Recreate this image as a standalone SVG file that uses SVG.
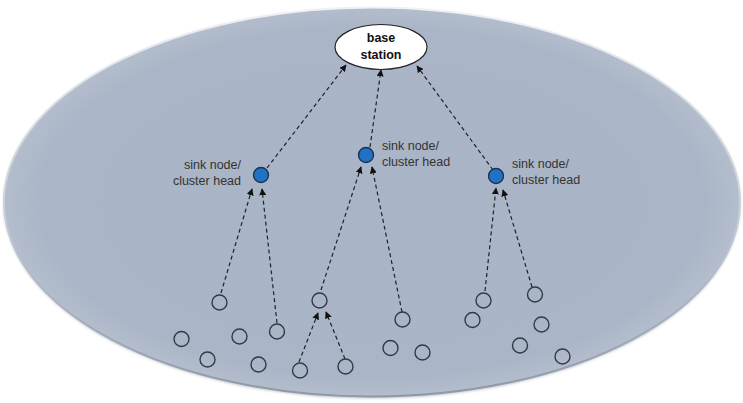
<svg xmlns="http://www.w3.org/2000/svg" width="743" height="403" viewBox="0 0 743 403">
<defs>
<radialGradient id="bg" cx="0.5" cy="0.5" r="0.5">
<stop offset="0" stop-color="#a9b4c6"/>
<stop offset="0.9" stop-color="#aab5c7"/>
<stop offset="1" stop-color="#b3bdcc"/>
</radialGradient>
<linearGradient id="rim" x1="0" y1="0" x2="0" y2="1">
<stop offset="0" stop-color="#eef1f5"/>
<stop offset="0.5" stop-color="#c9d0db"/>
<stop offset="1" stop-color="#8d97a6"/>
</linearGradient>
<filter id="sh" x="-5%" y="-5%" width="110%" height="115%">
<feGaussianBlur stdDeviation="1.5"/>
</filter>
<marker id="ah" viewBox="0 0 10 10" refX="9" refY="5" markerWidth="7" markerHeight="7" markerUnits="userSpaceOnUse" orient="auto">
<path d="M0,0 L10,5 L0,10 z" fill="#111"/>
</marker>
<style>
.leaf{fill:none;stroke:#333a44;stroke-width:1.4}
.sink{fill:#1f72c4;stroke:#1a3550;stroke-width:1.4}
.lbl{font-family:"Liberation Sans",Arial,sans-serif;font-size:12.5px;fill:#333}
.bs{font-family:"Liberation Sans",Arial,sans-serif;font-size:12.5px;font-weight:bold;fill:#111}
.con line{stroke:#222;stroke-width:1.2;stroke-dasharray:4 3;marker-end:url(#ah)}
</style>
</defs>
<g id="field">
<ellipse cx="372" cy="203.5" rx="368" ry="194.5" fill="#8a94a3" opacity="0.7" filter="url(#sh)"/>
<ellipse cx="372" cy="202" rx="368" ry="194.5" fill="url(#bg)" stroke="url(#rim)" stroke-width="2"/>
</g>
<g id="connectors" class="con">
<line x1="267" y1="168" x2="346" y2="65"/>
<line x1="370" y1="147" x2="381" y2="70"/>
<line x1="493" y1="170" x2="417" y2="66"/>
<line x1="221" y1="293" x2="252" y2="189"/>
<line x1="277" y1="323" x2="262" y2="189"/>
<line x1="321" y1="290" x2="361" y2="167"/>
<line x1="402" y1="312" x2="372" y2="167"/>
<line x1="299" y1="362" x2="318" y2="313"/>
<line x1="345" y1="359" x2="326" y2="312"/>
<line x1="485" y1="291" x2="496" y2="188"/>
<line x1="532" y1="287" x2="503" y2="190"/>
</g>
<g id="base-station">
<ellipse cx="381" cy="47" rx="46" ry="22.5" fill="#fff" stroke="#222" stroke-width="1.2"/>
<text class="bs" x="381" y="42" text-anchor="middle">base</text>
<text class="bs" x="381" y="59" text-anchor="middle">station</text>
</g>
<g id="sink-left">
<circle class="sink" cx="261" cy="175" r="7.5"/>
<text class="lbl" x="241" y="169" text-anchor="end">sink node/</text>
<text class="lbl" x="241" y="185" text-anchor="end">cluster head</text>
</g>
<g id="sink-middle">
<circle class="sink" cx="366" cy="155" r="7.5"/>
<text class="lbl" x="382" y="150">sink node/</text>
<text class="lbl" x="382" y="166">cluster head</text>
</g>
<g id="sink-right">
<circle class="sink" cx="496" cy="176" r="7.5"/>
<text class="lbl" x="512" y="168">sink node/</text>
<text class="lbl" x="512" y="184">cluster head</text>
</g>
<g id="leaf-1"><circle class="leaf" cx="219.5" cy="302.5" r="7.5"/></g>
<g id="leaf-2"><circle class="leaf" cx="277" cy="331.5" r="7.5"/></g>
<g id="leaf-3"><circle class="leaf" cx="181.5" cy="339" r="7.5"/></g>
<g id="leaf-4"><circle class="leaf" cx="239.5" cy="336.5" r="7.5"/></g>
<g id="leaf-5"><circle class="leaf" cx="207.5" cy="359.5" r="7.5"/></g>
<g id="leaf-6"><circle class="leaf" cx="258.5" cy="364.5" r="7.5"/></g>
<g id="leaf-7"><circle class="leaf" cx="319.5" cy="300.5" r="7.5"/></g>
<g id="leaf-8"><circle class="leaf" cx="402.5" cy="319.5" r="7.5"/></g>
<g id="leaf-9"><circle class="leaf" cx="300" cy="370.5" r="7.5"/></g>
<g id="leaf-10"><circle class="leaf" cx="345.5" cy="366.5" r="7.5"/></g>
<g id="leaf-11"><circle class="leaf" cx="390.5" cy="348" r="7.5"/></g>
<g id="leaf-12"><circle class="leaf" cx="422.5" cy="352.5" r="7.5"/></g>
<g id="leaf-13"><circle class="leaf" cx="483.5" cy="300.5" r="7.5"/></g>
<g id="leaf-14"><circle class="leaf" cx="535" cy="294.5" r="7.5"/></g>
<g id="leaf-15"><circle class="leaf" cx="472.5" cy="320" r="7.5"/></g>
<g id="leaf-16"><circle class="leaf" cx="541.5" cy="324.5" r="7.5"/></g>
<g id="leaf-17"><circle class="leaf" cx="520" cy="345.5" r="7.5"/></g>
<g id="leaf-18"><circle class="leaf" cx="562.5" cy="356.5" r="7.5"/></g>
</svg>
